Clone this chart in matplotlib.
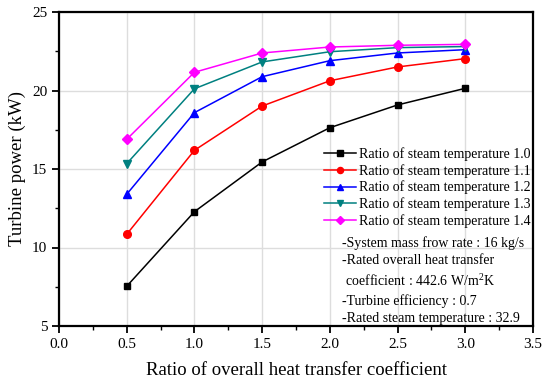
import matplotlib
matplotlib.use("Agg")
import matplotlib.pyplot as plt
from matplotlib.ticker import MultipleLocator

plt.rcParams['font.family'] = ['Liberation Serif', 'DejaVu Serif']
plt.rcParams['mathtext.fontset'] = 'custom'
plt.rcParams['mathtext.rm'] = 'Liberation Serif'

x = [0.5, 1.0, 1.5, 2.0, 2.5, 3.0]
labels = ["Ratio of steam temperature 1.0", "Ratio of steam temperature 1.1",
          "Ratio of steam temperature 1.2", "Ratio of steam temperature 1.3",
          "Ratio of steam temperature 1.4"]
t10 = [7.53, 12.28, 15.45, 17.63, 19.08, 20.14]
t11 = [10.84, 16.19, 19.01, 20.62, 21.50, 22.03]
t12 = [13.39, 18.59, 20.88, 21.90, 22.39, 22.60]
t13 = [15.34, 20.11, 21.82, 22.47, 22.73, 22.80]
t14 = [16.89, 21.16, 22.39, 22.77, 22.88, 22.94]
series = [t10, t11, t12, t13, t14]
colors = ["black", "#ff0000", "#0000ff", "#008080", "#ff00ff"]
markers = ["s", "o", "^", "v", "D"]
msizes = [5, 5.5, 6, 6, 5]

fig = plt.figure(figsize=(5.42, 3.81), dpi=100)
ax = fig.add_axes([59/542, 55/381, 474/542, 314/381])

for ys, c, m, ms, lab in zip(series, colors, markers, msizes, labels):
    ax.plot(x, ys, color=c, marker=m, markersize=ms, linewidth=1.1, label=lab, zorder=3)

ax.set_xlim(0, 3.5)
ax.set_ylim(5, 25)
ax.xaxis.set_major_locator(MultipleLocator(0.5))
ax.xaxis.set_minor_locator(MultipleLocator(0.25))
ax.yaxis.set_major_locator(MultipleLocator(5))
ax.yaxis.set_minor_locator(MultipleLocator(2.5))
ax.xaxis.set_major_formatter(matplotlib.ticker.FormatStrFormatter('%.1f'))
ax.grid(True, which='major', color='#dddddd', linewidth=1.0, zorder=0)
ax.set_axisbelow(True)
for s in ax.spines.values():
    s.set_linewidth(1.6)
ax.tick_params(axis='both', which='major', direction='out', length=5, width=1.3, labelsize=11)
ax.tick_params(axis='both', which='minor', direction='out', length=3, width=1.0)

ax.set_xlabel("Ratio of overall heat transfer coefficient", fontsize=13.5, labelpad=8)
ax.set_ylabel("Turbine power (kW)", fontsize=13.5, labelpad=4)

leg = ax.legend(loc='upper right', bbox_to_anchor=(1.006, 0.586), frameon=False,
                fontsize=10, handlelength=2.3, handletextpad=0.2,
                labelspacing=0.2, borderaxespad=0.0, markerscale=0.8)

note = ("-System mass frow rate : 16 kg/s\n"
        "-Rated overall heat transfer\n"
        " coefficient : 442.6 W/m$^2$K\n"
        "-Turbine efficiency : 0.7\n"
        "-Rated steam temperature : 32.9")
ax.text(0.598, 0.004, note, transform=ax.transAxes, fontsize=10,
        va='bottom', ha='left', linespacing=1.42)

fig.savefig("out.png", dpi=100)
